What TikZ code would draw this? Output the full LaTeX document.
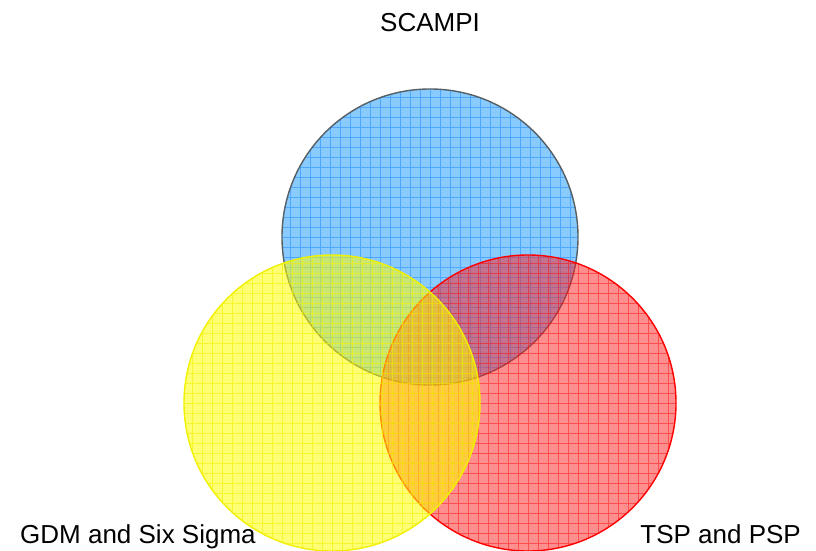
\documentclass[tikz,border=0pt]{standalone}
\usepackage{fontspec}
\setmainfont{Liberation Sans}
\begin{document}
\begin{tikzpicture}[x=1pt,y=-1pt,
  venn/.style={circle, minimum size=296pt, inner sep=0pt, line width=1.4pt},
  gridded/.style={path picture={
      \draw[#1, line width=0.8pt, step=10pt]
        ([xshift=-5pt,yshift=-5pt]path picture bounding box.south west)
        grid ([xshift=5pt,yshift=5pt]path picture bounding box.north east);}},
  label/.style={font=\fontsize{26}{30}\selectfont, inner sep=0pt, anchor=base}]
  \definecolor{bluefill}{RGB}{40,160,255}
  \definecolor{blueline}{RGB}{30,140,255}
  \definecolor{bluedraw}{RGB}{85,95,100}
  \definecolor{redfill}{RGB}{255,30,30}
  \definecolor{redline}{RGB}{255,0,0}
  \definecolor{yelfill}{RGB}{255,255,0}
  \definecolor{yelline}{RGB}{240,240,0}
  \useasboundingbox (0,0) rectangle (816,551);
  % the three sets
  \node[venn, fill=bluefill, fill opacity=0.55, draw=bluedraw, draw opacity=1,
        gridded={blueline, opacity=0.55}] (scampi) at (430,237) {};
  \node[venn, fill=redfill, fill opacity=0.5, draw=redline, draw opacity=1,
        gridded={redline, opacity=0.45}] (tsp) at (528,403) {};
  \node[venn, fill=yelfill, fill opacity=0.55, draw=yelline, draw opacity=1,
        gridded={yelline, opacity=0.6}] (gdm) at (332,403) {};
  % set names
  \node[label] (scampiL) at (430,32) {SCAMPI};
  \node[label, anchor=base west] (gdmL) at (20,543) {GDM and Six Sigma};
  \node[label, anchor=base east] (tspL) at (801,543) {TSP and PSP};
\end{tikzpicture}
\end{document}
